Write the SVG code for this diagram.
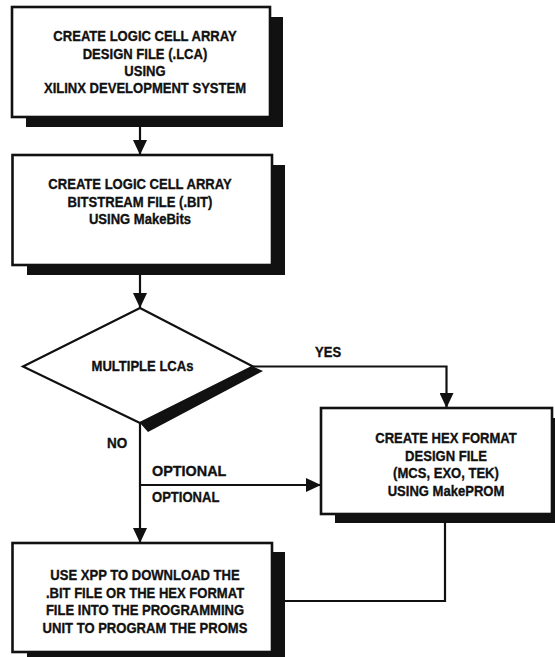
<svg xmlns="http://www.w3.org/2000/svg" width="555" height="657" viewBox="0 0 555 657">
<defs>
<marker id="ah" markerUnits="userSpaceOnUse" markerWidth="16" markerHeight="14" refX="15" refY="7" orient="auto"><path d="M0,0 L15,7 L0,14 Z" fill="#111"/></marker>
<style>
.box{fill:#fff;stroke:#111;stroke-width:2.6}
.sh{fill:#111}
.ln{fill:none;stroke:#111;stroke-width:2.2}
.t{font-family:"Liberation Sans",Arial,Helvetica,sans-serif;font-weight:bold;font-size:15px;fill:#111;stroke:#111;stroke-width:0.35}
.c{text-anchor:middle}
</style>
</defs>
<rect width="555" height="657" fill="#fff"/>
<g id="connectors">
<path class="ln" d="M140,127 V155" marker-end="url(#ah)"/>
<path class="ln" d="M140,275 V308" marker-end="url(#ah)"/>
<path class="ln" d="M253,366.5 H446.5 V408" marker-end="url(#ah)"/>
<path class="ln" d="M140,423 V543" marker-end="url(#ah)"/>
<path class="ln" d="M140,485 H321" marker-end="url(#ah)"/>
<path class="ln" d="M445,523 V601 H285"/>
<text class="t" transform="translate(315 357) scale(.87 1)">YES</text>
<text class="t" transform="translate(107 448) scale(.9 1)">NO</text>
<text class="t" transform="translate(152 476) scale(.96 1)">OPTIONAL</text>
<text class="t" transform="translate(152 502) scale(.87 1)">OPTIONAL</text>
</g>
<g id="n1">
<rect class="sh" x="26" y="17" width="257" height="110"/>
<rect class="box" x="12" y="7" width="258" height="110"/>
<text class="t c" transform="translate(145 0) scale(.87 1)"><tspan x="0" y="41.5">CREATE LOGIC CELL ARRAY</tspan><tspan x="0" y="59">DESIGN FILE (.LCA)</tspan><tspan x="0" y="76">USING</tspan><tspan x="0" y="93.5">XILINX DEVELOPMENT SYSTEM</tspan></text>
</g>
<g id="n2">
<rect class="sh" x="27" y="165" width="258" height="110"/>
<rect class="box" x="12.5" y="155" width="259.5" height="110"/>
<text class="t c" transform="translate(140 0) scale(.87 1)"><tspan x="0" y="189.5">CREATE LOGIC CELL ARRAY</tspan><tspan x="0" y="207">BITSTREAM FILE (.BIT)</tspan><tspan x="0" y="224.5">USING MakeBits</tspan></text>
</g>
<g id="dec">
<polygon class="sh" points="253,366.5 263,371 148,432 140,423"/>
<polygon class="box" style="stroke-width:2.2" points="140,308 253,366.5 140,423 23,366.5"/>
<text class="t c" transform="translate(142.5 0) scale(.87 1)"><tspan x="0" y="371.5">MULTIPLE LCAs</tspan></text>
</g>
<g id="n3">
<rect class="sh" x="335" y="418" width="240" height="105"/>
<rect class="box" x="321" y="408" width="231" height="106"/>
<text class="t c" transform="translate(446 0) scale(.87 1)"><tspan x="0" y="443.5">CREATE HEX FORMAT</tspan><tspan x="0" y="461">DESIGN FILE</tspan><tspan x="0" y="478.5">(MCS, EXO, TEK)</tspan><tspan x="0" y="496">USING MakePROM</tspan></text>
</g>
<g id="n4">
<rect class="sh" x="27" y="552" width="258" height="120"/>
<rect class="box" x="12.5" y="543" width="259.5" height="109"/>
<text class="t c" transform="translate(145 0) scale(.87 1)"><tspan x="0" y="580">USE XPP TO DOWNLOAD THE</tspan><tspan x="0" y="598">.BIT FILE OR THE HEX FORMAT</tspan><tspan x="0" y="615.5">FILE INTO THE PROGRAMMING</tspan><tspan x="0" y="633">UNIT TO PROGRAM THE PROMS</tspan></text>
</g>
</svg>
